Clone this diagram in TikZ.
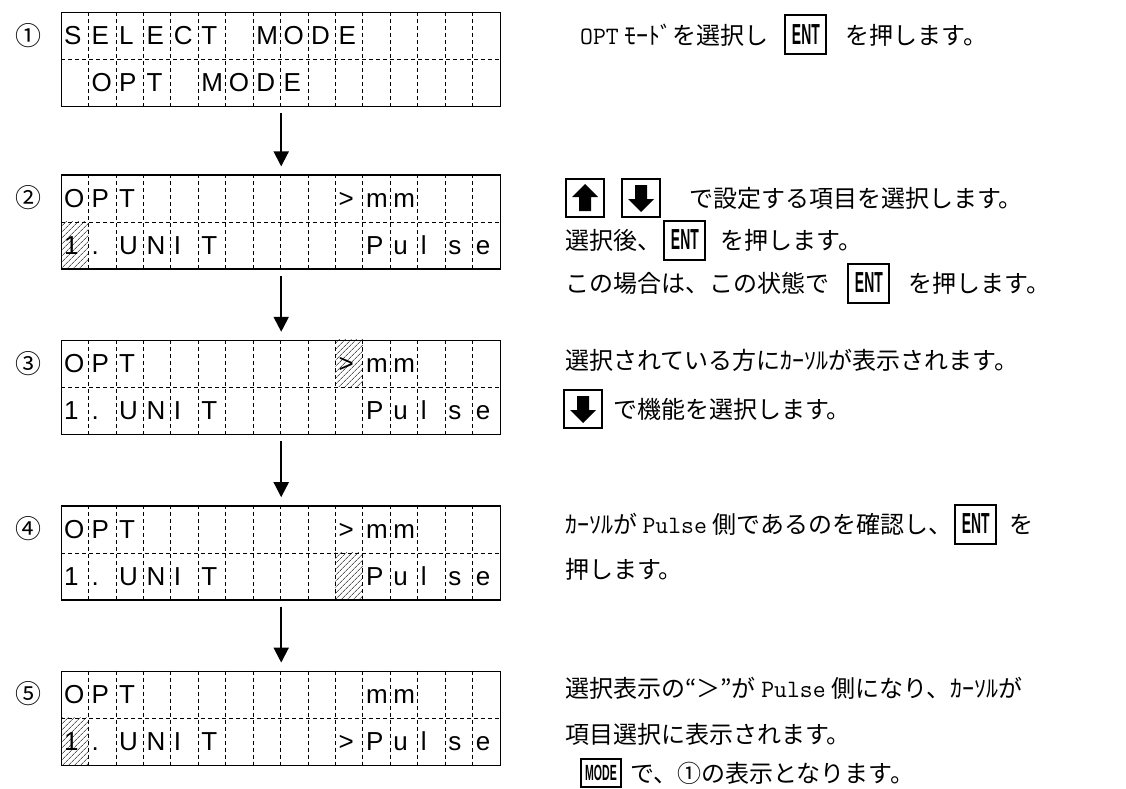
\documentclass[tikz,border=0pt]{standalone}
\usepackage{fontspec}
\usepackage{graphicx}
\setmainfont{Liberation Sans}
\newfontfamily\cjk{Noto Sans CJK JP}
\usetikzlibrary{arrows.meta, positioning, calc, patterns.meta}

\newcommand{\cellw}{27.4375}
\newcommand{\halfw}[1]{{\ttfamily\fontsize{25}{25}\selectfont #1}}
\newcommand{\keytext}[1]{\scalebox{0.48}[1]{#1}}
% dashed cell dividers of one display
\newcommand{\lcdgrid}[1]{%
  \foreach \c in {1,...,15}
    \draw[divider] ($(#1.north west)+(\c*\cellw,0)$) -- ($(#1.south west)+(\c*\cellw,0)$);
  \draw[divider] (#1.west) -- (#1.east);
}
% characters of one display row: {display}{row}{col/char,...}
\newcommand{\lcdrow}[3]{%
  \foreach \c/\t in {#3}
    \node[glyph] at ($(#1.north west)+(\c*\cellw-\cellw+3,#2*47-23.5)$) {\t};
}
% hatched cursor cell: {display}{row}{col}
\newcommand{\cursor}[3]{%
  \fill[hatch] ($(#1.north west)+(#3*\cellw-\cellw,#2*47-47)$) rectangle ++(\cellw,47);
}

\begin{document}
\begin{tikzpicture}[
  x=1pt, y=-1pt,
  % node styles
  lcd/.style    = {draw, line width=1.4pt, minimum width=439pt, minimum height=94pt,
                   inner sep=0pt},
  glyph/.style  = {anchor=west, inner sep=0pt, font=\fontsize{26}{26}\selectfont,
                   text height=18.6pt, text depth=0pt},
  num/.style    = {inner sep=0pt, font=\cjk\fontsize{26}{26}\selectfont},
  txt/.style    = {anchor=west, inner sep=0pt, font=\cjk\fontsize{24}{24}\selectfont},
  key/.style    = {draw, line width=2pt, minimum width=38pt, minimum height=38pt,
                   inner sep=0pt},
  entkey/.style = {key, minimum width=41pt, minimum height=39pt,
                   font=\bfseries\fontsize{29}{29}\selectfont},
  modekey/.style= {key, minimum width=40pt, minimum height=28pt,
                   font=\bfseries\fontsize{22}{22}\selectfont},
  % line styles
  divider/.style = {line width=0.7pt, dash pattern=on 4pt off 3pt},
  hatch/.style   = {pattern={Lines[angle=45, distance=4pt, line width=0.5pt]}},
  flow/.style    = {-{Triangle[width=15pt, length=15pt]}, line width=2pt,
                    shorten <=6pt, shorten >=8pt},
]
\useasboundingbox (0,0) rectangle (1126,789);
\fill[white] (0,0) rectangle (1126,789);

%% Displays (stacked vertically)
\node[lcd, anchor=north west] (lcd1) at (61,12) {};
\node[lcd, below=67pt of lcd1] (lcd2) {};
\node[lcd, below=70pt of lcd2] (lcd3) {};
\node[lcd, below=70pt of lcd3] (lcd4) {};
\node[lcd, below=70pt of lcd4] (lcd5) {};

%% Cursor cells
\cursor{lcd2}{2}{1}
\cursor{lcd3}{1}{11}
\cursor{lcd4}{2}{11}
\cursor{lcd5}{2}{1}

\lcdgrid{lcd1}
\lcdgrid{lcd2}
\lcdgrid{lcd3}
\lcdgrid{lcd4}
\lcdgrid{lcd5}

%% Display contents
\lcdrow{lcd1}{1}{1/S,2/E,3/L,4/E,5/C,6/T,8/M,9/O,10/D,11/E}
\lcdrow{lcd1}{2}{2/O,3/P,4/T,6/M,7/O,8/D,9/E}
\lcdrow{lcd2}{1}{1/O,2/P,3/T,11/>,12/m,13/m}
\lcdrow{lcd2}{2}{1/1,2/.,3/U,4/N,5/I,6/T,12/P,13/u,14/l,15/s,16/e}
\lcdrow{lcd3}{1}{1/O,2/P,3/T,11/>,12/m,13/m}
\lcdrow{lcd3}{2}{1/1,2/.,3/U,4/N,5/I,6/T,12/P,13/u,14/l,15/s,16/e}
\lcdrow{lcd4}{1}{1/O,2/P,3/T,11/>,12/m,13/m}
\lcdrow{lcd4}{2}{1/1,2/.,3/U,4/N,5/I,6/T,12/P,13/u,14/l,15/s,16/e}
\lcdrow{lcd5}{1}{1/O,2/P,3/T,12/m,13/m}
\lcdrow{lcd5}{2}{1/1,2/.,3/U,4/N,5/I,6/T,11/>,12/P,13/u,14/l,15/s,16/e}

%% Step numbers
\node[num] (n1) at ($(lcd1.north west)+(-32,23.5)$) {①};
\node[num] (n2) at ($(lcd2.north west)+(-32,23.5)$) {②};
\node[num] (n3) at ($(lcd3.north west)+(-32,23.5)$) {③};
\node[num] (n4) at ($(lcd4.north west)+(-32,23.5)$) {④};
\node[num] (n5) at ($(lcd5.north west)+(-32,23.5)$) {⑤};

%% Flow arrows
\draw[flow] (lcd1.south) -- (lcd2.north);
\draw[flow] (lcd2.south) -- (lcd3.north);
\draw[flow] (lcd3.south) -- (lcd4.north);
\draw[flow] (lcd4.south) -- (lcd5.north);

%% Step 1 text
\node[txt] (t1a) at (580,35) {\halfw{OPT} ﾓｰﾄﾞを選択し};
\node[entkey, right=16pt of t1a] (ent1) {\keytext{ENT}};
\node[txt, right=18pt of ent1] (t1b) {を押します。};

%% Step 2 text
\node[key, anchor=west] (up2) at (565,198) {};
\node[key, right=16pt of up2] (down2) {};
\node[txt, right=28pt of down2] (t2a) {で設定する項目を選択します。};
\fill ($(up2)+(0,-14)$) -- ++(13,13) -- ++(-7,0) -- ++(0,14) -- ++(-12,0)
  -- ++(0,-14) -- ++(-7,0) -- cycle;
\fill ($(down2)+(0,14)$) -- ++(13,-13) -- ++(-7,0) -- ++(0,-14) -- ++(-12,0)
  -- ++(0,14) -- ++(-7,0) -- cycle;
\node[txt] (t2b) at (565,240) {選択後、};
\node[entkey, right=2pt of t2b] (ent2) {\keytext{ENT}};
\node[txt, right=14pt of ent2] (t2c) {を押します。};
\node[txt] (t2d) at (565,283) {この場合は、この状態で};
\node[entkey, right=18pt of t2d] (ent3) {\keytext{ENT}};
\node[txt, right=18pt of ent3] (t2e) {を押します。};

%% Step 3 text
\node[txt] (t3a) at (565,360) {選択されている方にｶｰｿﾙが表示されます。};
\node[key, anchor=west] (down3) at (563,409) {};
\fill ($(down3)+(0,14)$) -- ++(13,-13) -- ++(-7,0) -- ++(0,-14) -- ++(-12,0)
  -- ++(0,14) -- ++(-7,0) -- cycle;
\node[txt, right=10pt of down3] (t3b) {で機能を選択します。};

%% Step 4 text
\node[txt] (t4a) at (565,524) {ｶｰｿﾙが \halfw{Pulse} 側であるのを確認し、};
\node[entkey, right=2pt of t4a] (ent4) {\keytext{ENT}};
\node[txt, right=12pt of ent4] (t4b) {を};
\node[txt] (t4c) at (565,569) {押します。};

%% Step 5 text
\node[txt] (t5a) at (565,688) {選択表示の“＞”が \halfw{Pulse} 側になり、ｶｰｿﾙが};
\node[txt] (t5b) at (565,734) {項目選択に表示されます。};
\node[modekey, anchor=west] (mode5) at (580,773) {\keytext{MODE}};
\node[txt, right=8pt of mode5] (t5c) {で、①の表示となります。};

\end{tikzpicture}
\end{document}
